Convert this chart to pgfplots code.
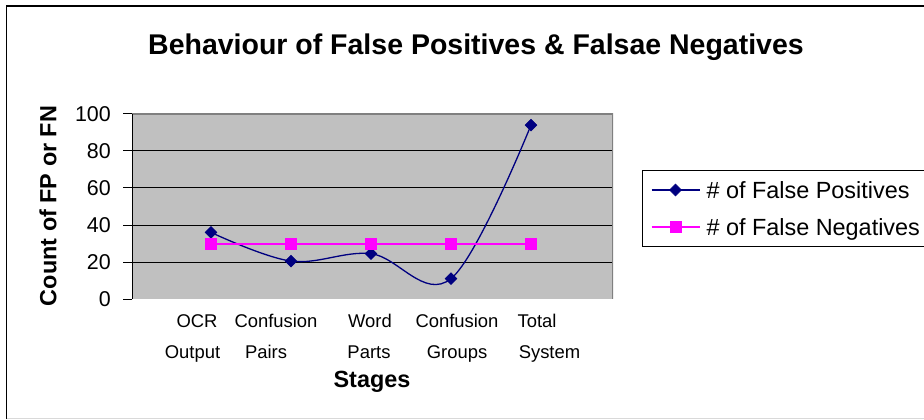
\documentclass[border=0pt]{standalone}
\usepackage{pgfplots}
\pgfplotsset{compat=1.18}
\usepackage{fontspec}
\setmainfont{Liberation Sans}
\definecolor{fpnavy}{HTML}{000080}
\definecolor{fnmag}{HTML}{FF00FF}
\definecolor{plotgray}{HTML}{C0C0C0}
\definecolor{bordergray}{HTML}{808080}
\begin{document}
\begin{tikzpicture}[x=1bp,y=1bp]
\useasboundingbox (0,0) rectangle (924,419);
\draw[black, line width=1.5bp] (6.5,0) -- (6.5,413) -- (930,413);
\draw[black!15, line width=1bp] (6.5,1) -- (930,1);
\node[anchor=base, font=\bfseries\fontsize{28.6}{32}\selectfont] at (476,365) {Behaviour of False Positives \& Falsae Negatives};
\begin{axis}[
  at={(132bp,120bp)}, anchor=south west, scale only axis,
  width=481bp, height=185bp,
  xmin=-0.9875, xmax=5.025, ymin=0, ymax=100,
  axis background/.style={fill=plotgray},
  axis line style={draw=none},
  /pgf/number format/assume math mode=true,
  tick align=outside, major tick length=9bp,
  ytick={0,20,...,100}, ytick pos=left,
  ytick style={black, line width=1bp},
  yticklabel style={font=\fontsize{21.5}{24}\selectfont, anchor=east, inner sep=0pt, xshift=-12bp},
  extra y ticks={20,40,60,80}, extra y tick labels={},
  extra y tick style={grid=major, major grid style={black, line width=1bp}, ytick style={draw=none}},
  xtick={-0.175,0.8125,1.9875,3.075,4.075},
  xticklabels={OCR,Confusion,Word,Confusion,Total},
  extra x ticks={-0.231,0.6875,1.975,3.075,4.231},
  extra x tick labels={Output,Pairs,Parts,Groups,System},
  extra x tick style={xticklabel style={yshift=-31bp}},
  xtick style={draw=none},
  xticklabel style={font=\fontsize{18.5}{22}\selectfont, anchor=base, inner sep=0pt, yshift=-19bp},
  xlabel={Stages},
  xlabel style={font=\bfseries\fontsize{23.5}{26}\selectfont, at={(axis description cs:0.499,-0.481)}, anchor=base, inner sep=0pt},
  ylabel={Count of FP or FN},
  ylabel style={font=\bfseries\fontsize{23.5}{26}\selectfont, at={(axis description cs:-0.1746,0.503)}, anchor=center, inner sep=0pt},
  legend style={at={(axis description cs:1.0603,0.6973)}, anchor=north west, draw=black, line width=1bp, fill=white,
    font=\fontsize{23.5}{26}\selectfont, inner xsep=8bp, inner ysep=1bp,
    nodes={inner xsep=6bp, inner ysep=7bp, text height=20bp, text depth=3bp}},
  legend cell align=left,
  legend image code/.code={\draw[mark repeat=2,mark phase=2,#1] plot coordinates {(0bp,0bp) (24bp,0bp) (48bp,0bp)};},
]
\draw[bordergray, line width=1.5bp] (rel axis cs:0,1) -- (rel axis cs:1,1) -- (rel axis cs:1,0);
\draw[black, line width=1.5bp] (rel axis cs:0,0) -- (rel axis cs:0,1);
\addplot[fpnavy, line width=1.3bp, smooth, tension=0.6, mark=square*, mark size=4.2bp, mark options={rotate=45, solid, fill=fpnavy, draw=fpnavy, line width=0.5bp}]
  coordinates {(0,36) (1,20.5) (2,24.5) (3,11) (4,94)};
\addlegendentry{\# of False Positives}
\addplot[color=fnmag, draw=fnmag, line width=2bp, mark=square*, mark size=5.5bp, mark options={solid, fill=fnmag, draw=fnmag, line width=0.5bp}]
  coordinates {(0,30) (1,30) (2,30) (3,30) (4,30)};
\addlegendentry{\# of False Negatives}
\end{axis}
\end{tikzpicture}
\end{document}
